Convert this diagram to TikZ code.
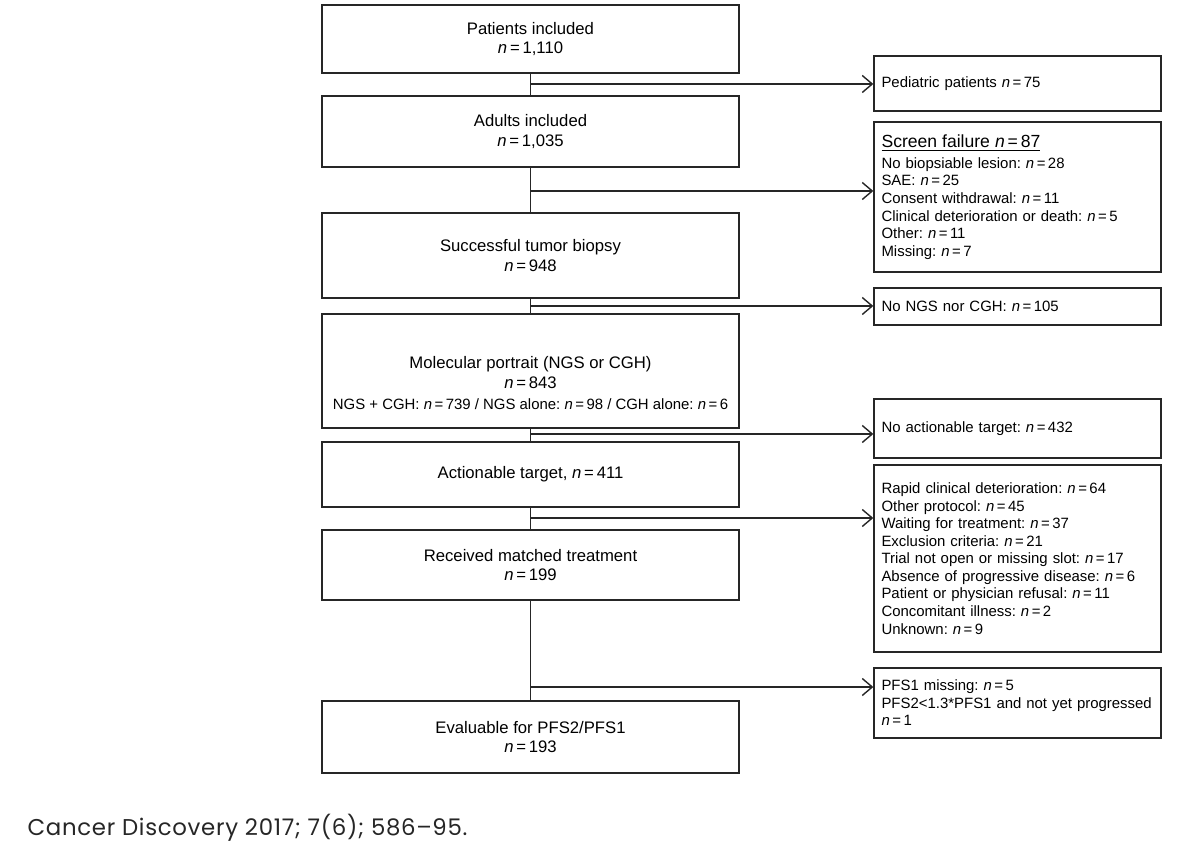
\documentclass[tikz,border=0pt]{standalone}
\usepackage{fontspec}
\setmainfont{Liberation Sans}
\newfontfamily\citefont[LetterSpace=3]{Poppins}
\usetikzlibrary{arrows.meta,positioning}
\newcommand{\nv}[1]{\textit{n}\,=\,#1}
\frenchspacing

\begin{document}
\begin{tikzpicture}[x=.02cm,y=-.02cm,>={Straight Barb[length=2mm,width=3.4mm]},line width=.8pt,
 lbox/.style={draw=black!85,minimum width=8.34cm,align=center,font=\fontsize{9.5}{11.3}\selectfont},
 rbox/.style={draw=black!85,minimum width=5.74cm,text width=5.44cm,inner xsep=.15cm,align=left,font=\fontsize{8.5}{10}\selectfont},
 link/.style={draw=black!85}]
\useasboundingbox (0,0) rectangle (1200,854);
% main path
\node[lbox,minimum height=1.36cm] (pat) at (530.5,39) {Patients included\\\nv{1,110}};
\node[lbox,minimum height=1.42cm] (adu) at (530.5,131.5) {Adults included\\\nv{1,035}};
\node[lbox,minimum height=1.70cm] (bio) at (530.5,255.5) {Successful tumor biopsy\\\nv{948}};
\node[lbox,minimum height=2.28cm] (mol) at (530.5,371) {};
\node[align=center,font=\fontsize{9.5}{11.3}\selectfont] (moltxt) at (530.5,383)
 {Molecular portrait (NGS or CGH)\\\nv{843}\\[1pt]
 {\fontsize{8.5}{10}\selectfont NGS + CGH: \nv{739} / NGS alone: \nv{98} / CGH alone: \nv{6}}};
\node[lbox,minimum height=1.30cm] (act) at (530.5,474.5) {Actionable target, \nv{411}};
\node[lbox,minimum height=1.40cm] (rec) at (530.5,565) {Received matched treatment\\\nv{199}};
\node[lbox,minimum height=1.44cm] (eva) at (530.5,737) {Evaluable for PFS2/PFS1\\\nv{193}};
% exclusions
\node[rbox,minimum height=1.10cm] (ped) at (1017.5,83.5) {Pediatric patients \nv{75}};
\node[rbox,minimum height=3.00cm] (scr) at (1017.5,197)
 {{\fontsize{10}{12}\selectfont\underline{Screen failure \nv{87}}}\\[2pt]
 No biopsiable lesion: \nv{28}\\
 SAE: \nv{25}\\
 Consent withdrawal: \nv{11}\\
 Clinical deterioration or death: \nv{5}\\
 Other: \nv{11}\\
 Missing: \nv{7}};
\node[rbox,minimum height=.74cm] (nong) at (1017.5,306.5) {No NGS nor CGH: \nv{105}};
\node[rbox,minimum height=1.18cm] (noact) at (1017.5,428.5) {No actionable target: \nv{432}};
\node[rbox,minimum height=3.74cm] (rapid) at (1017.5,558.5)
 {Rapid clinical deterioration: \nv{64}\\
 Other protocol: \nv{45}\\
 Waiting for treatment: \nv{37}\\
 Exclusion criteria: \nv{21}\\
 Trial not open or missing slot: \nv{17}\\
 Absence of progressive disease: \nv{6}\\
 Patient or physician refusal: \nv{11}\\
 Concomitant illness: \nv{2}\\
 Unknown: \nv{9}};
\node[rbox,minimum height=1.40cm] (pfs) at (1017.5,703)
 {PFS1 missing: \nv{5}\\
 \mbox{PFS2<1.3*PFS1 and not yet progressed}\\
 \nv{1}};
% connectors
\draw[link] (pat.south) -- (adu.north);
\draw[link] (adu.south) -- (bio.north);
\draw[link] (bio.south) -- (mol.north);
\draw[link] (mol.south) -- (act.north);
\draw[link] (act.south) -- (rec.north);
\draw[link] (rec.south) -- (eva.north);
\foreach \y/\t in {84/ped,191/scr,306/nong,434/noact,518/rapid,687/pfs}{
 \coordinate (j\t) at (pat.south |- 0,\y);
 \draw[link,->] (j\t) -- (j\t -| \t.west);
}
\node[anchor=base west,inner sep=0,text=black!85,font=\citefont\fontsize{13}{15}\selectfont] (cite) at (27,835)
 {Cancer Discovery 2017; 7(6); 586–95.};
\end{tikzpicture}
\end{document}
